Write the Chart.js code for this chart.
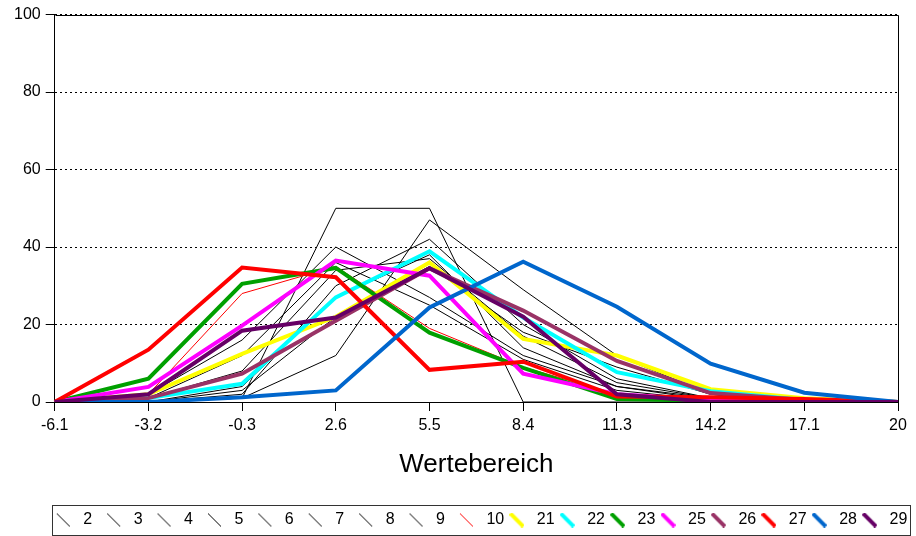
<!DOCTYPE html>
<html>
<head>
<meta charset="utf-8">
<script src="https://cdn.jsdelivr.net/npm/chart.js@4/dist/chart.umd.min.js"></script>
<style>
html,body{margin:0;padding:0;background:#fff;}
#wrap{width:916px;height:536px;}
</style>
</head>
<body>
<div id="wrap"><canvas id="c" width="916" height="536"></canvas></div>
<script>
const categories = ['-6.1','-3.2','-0.3','2.6','5.5','8.4','11.3','14.2','17.1','20'];
const yTicks = [0, 20, 40, 60, 80, 100];
const xTitle = 'Wertebereich';

const s2  = [0, 2, 16, 40, 27, 12, 4, 1, 0, 0];
const s3  = [0, 0, 1, 50, 50, 0, 0, 0, 0, 0];
const s4  = [0, 0, 1, 12, 47, 29, 12, 2, 0, 0];
const s5  = [0, 0, 2, 30, 42, 20, 6, 1, 0, 0];
const s6  = [0, 1, 8, 34, 37, 17, 5, 1, 0, 0];
const s7  = [0, 0, 4, 27, 38, 14, 4, 0.5, 0, 0];
const s8  = [0, 1, 12, 36, 25, 11, 3, 0.5, 0, 0];
const s9  = [0, 0, 3, 22, 35, 18, 9, 2, 0, 0];
const s10 = [0, 2, 28, 35, 19, 9, 2, 1, 0, 0];
const s21 = [0, 2, 12.4, 22, 36, 16.3, 12, 3.3, 1, 0];
const s22 = [0, 1, 4.7, 27, 38.9, 21.8, 7.7, 2.8, 0.5, 0];
const s23 = [0, 6, 30.5, 34.6, 17.9, 8.8, 0.8, 0.3, 0, 0];
const s25 = [0, 3.9, 19.7, 36.5, 32.6, 7.3, 2, 0.5, 0, 0];
const s26 = [0, 1, 7.3, 21, 34.5, 23.6, 10.6, 2.3, 0.5, 0];
const s27 = [0, 13.5, 34.7, 32.2, 8.3, 10.4, 1.4, 1.2, 0.8, 0];
const s28 = [0, 0, 1.2, 3, 24.4, 36.2, 24.6, 9.9, 2.4, 0];
const s29 = [0, 2, 18.4, 21.8, 34.5, 22, 2, 0, 0, 0];

const seriesNames = ['2','3','4','5','6','7','8','9','10','21','22','23','25','26','27','28','29'];
const seriesValues = [s2,s3,s4,s5,s6,s7,s8,s9,s10,s21,s22,s23,s25,s26,s27,s28,s29];
const seriesColors = ['#000000','#000000','#000000','#000000','#000000','#000000','#000000','#000000',
  '#ff0000','#ffff00','#00ffff','#00a000','#ff00ff','#993366','#ff0000','#0066cc','#660066'];
const seriesWidths = [1,1,1,1,1,1,1,1,1,4,4,4,4,4,4,4,4];

const FONT = "'Liberation Sans', Arial, sans-serif";

function legendSymbol(color, w) {
  const cv = document.createElement('canvas');
  cv.width = 15; cv.height = 15;
  const g = cv.getContext('2d');
  g.strokeStyle = color;
  g.lineWidth = w;
  g.lineCap = 'butt';
  g.beginPath();
  g.moveTo(1, 1);
  g.lineTo(14, 14);
  g.stroke();
  return cv;
}

const datasets = seriesNames.map((name, i) => ({
  label: name,
  data: seriesValues[i],
  borderColor: seriesColors[i],
  backgroundColor: seriesColors[i],
  borderWidth: seriesWidths[i],
  pointRadius: 0,
  pointHoverRadius: 0,
  pointStyle: legendSymbol(seriesColors[i], seriesWidths[i] > 1 ? 4 : 1),
  tension: 0,
  fill: false,
  order: -i
}));

const frame = {
  id: 'frame',
  afterDraw(chart) {
    const ctx = chart.ctx;
    const a = chart.chartArea;
    ctx.save();
    ctx.strokeStyle = '#000';
    ctx.lineWidth = 1;
    ctx.beginPath();
    ctx.moveTo(Math.round(a.left) + 0.5, Math.round(a.top) + 0.5);
    ctx.lineTo(Math.round(a.right) + 0.5, Math.round(a.top) + 0.5);
    ctx.lineTo(Math.round(a.right) + 0.5, Math.round(a.bottom) + 0.5);
    ctx.stroke();
    const hb = chart.legend.legendHitBoxes;
    if (hb && hb.length) {
      const first = hb[0], last = hb[hb.length - 1];
      const cy = first.top + first.height / 2;
      const x0 = Math.round(first.left) + 1.5;
      const x1 = Math.min(Math.round(last.left + last.width) + 3.5, chart.width - 3.5);
      ctx.strokeStyle = '#333';
      ctx.strokeRect(x0, Math.round(cy - 15) + 0.5, x1 - x0, 30);
    }
    ctx.restore();
  }
};

new Chart(document.getElementById('c'), {
  type: 'line',
  data: { labels: categories, datasets: datasets },
  plugins: [frame],
  options: {
    responsive: false,
    animation: false,
    devicePixelRatio: 1,
    layout: { padding: { left: 9, right: 8, top: 7, bottom: -2 } },
    plugins: {
      tooltip: { enabled: false },
      legend: {
        display: true,
        position: 'bottom',
        align: 'end',
        labels: {
          usePointStyle: true,
          pointStyleWidth: 24,
          padding: 0.6,
          color: '#000',
          font: { family: FONT, size: 16 },
          generateLabels(chart) {
            const items = Chart.defaults.plugins.legend.labels.generateLabels(chart);
            return items.map(it => { if (it.text.length === 1) it.text = it.text + '\u2007'; return it; });
          },
          sort: (a, b) => a.datasetIndex - b.datasetIndex
        }
      }
    },
    scales: {
      x: {
        type: 'category',
        offset: false,
        afterFit(scale) { scale.paddingRight = 18; },
        border: { display: true, color: '#000', width: 1 },
        grid: { display: true, drawOnChartArea: false, drawTicks: true, tickLength: 9, tickColor: '#000' },
        ticks: { color: '#000', font: { family: FONT, size: 16 }, padding: 5, maxRotation: 0, autoSkip: false },
        title: { display: true, text: xTitle, color: '#000', font: { family: FONT, size: 26 }, padding: { top: 9, bottom: 31 } }
      },
      y: {
        min: 0,
        max: 100,
        afterBuildTicks(scale) { scale.ticks = yTicks.map(v => ({ value: v })); },
        border: { display: true, color: '#000', width: 1, dash: [2, 3] },
        grid: { color: '#000', tickBorderDash: [], tickColor: '#000', tickLength: 9, drawTicks: true },
        ticks: { color: '#000', font: { family: FONT, size: 16 }, padding: 5 }
      }
    }
  }
});
</script>
</body>
</html>
